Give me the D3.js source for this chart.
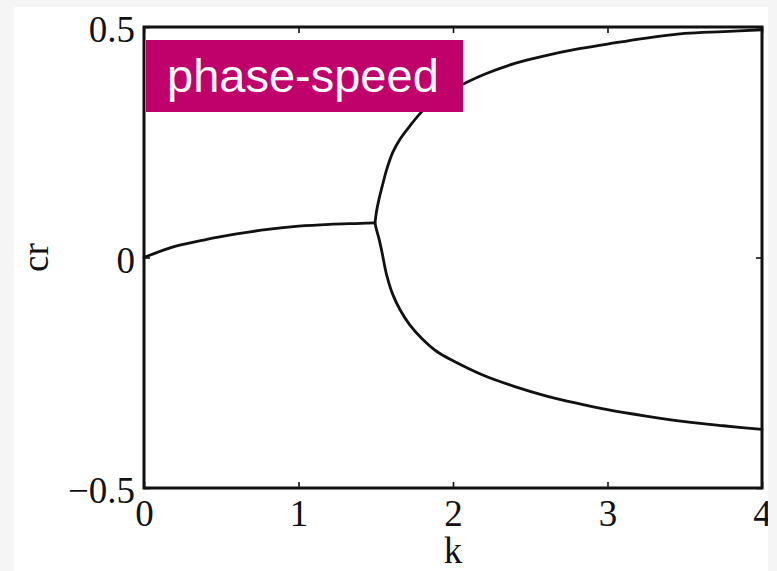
<!DOCTYPE html>
<html>
<head>
<meta charset="utf-8">
<script src="https://cdn.jsdelivr.net/npm/d3@7"></script>
<style>
  html, body { margin: 0; padding: 0; background: #f5f5f5; }
  svg { display: block; }
</style>
</head>
<body>
<svg id="chart" width="777" height="571"></svg>
<script>
// Wavenumber k vs. phase speed cr: a single neutral branch up to the
// bifurcation point, then two branches (upper and lower phase speeds).
const kSingle  = [0, 0.2, 0.4, 0.6, 0.8, 1.0, 1.2, 1.4, 1.495];
const crSingle = [0, 0.024, 0.039, 0.051, 0.061, 0.068, 0.072, 0.074, 0.075];

const kSplit  = [1.495, 1.505, 1.52, 1.54, 1.57, 1.61, 1.66, 1.72, 1.80, 1.90, 2.0, 2.2, 2.4, 2.6, 2.8, 3.0, 3.25, 3.5, 3.75, 4.0];
const crUpper = [0.075, 0.100, 0.125, 0.152, 0.190, 0.228, 0.258, 0.285, 0.317, 0.346, 0.365, 0.397, 0.421, 0.438, 0.452, 0.463, 0.476, 0.486, 0.490, 0.494];
const crLower = [0.075, 0.060, 0.042, 0.012, -0.037, -0.080, -0.115, -0.146, -0.176, -0.205, -0.224, -0.256, -0.280, -0.300, -0.316, -0.330, -0.344, -0.356, -0.365, -0.373];

const xTicks = [0, 1, 2, 3, 4];
const yTicks = [-0.5, 0, 0.5];
const xLabel = "k";
const yLabel = "cr";
const badgeText = "phase-speed";

const svg = d3.select("#chart");
const W = 777, H = 571;
const panel = { left: 14, top: 7, right: 768, bottom: 571 };
const plot = { left: 144, top: 27, right: 762, bottom: 488 };

const serif = "'Liberation Serif', 'Times New Roman', serif";
const sans = "'Liberation Sans', Arial, sans-serif";
const fontSize = 37;

// page panel
svg.append("rect").attr("x", 0).attr("y", 0).attr("width", W).attr("height", H).attr("fill", "#f5f5f5");
svg.append("clipPath").attr("id", "panelClip")
  .append("rect")
  .attr("x", panel.left).attr("y", panel.top)
  .attr("width", panel.right - panel.left).attr("height", panel.bottom - panel.top);
const g = svg.append("g").attr("clip-path", "url(#panelClip)");
g.append("rect")
  .attr("x", panel.left).attr("y", panel.top)
  .attr("width", panel.right - panel.left).attr("height", panel.bottom - panel.top)
  .attr("fill", "#ffffff");

const x = d3.scaleLinear().domain([0, 4]).range([plot.left, plot.right]);
const y = d3.scaleLinear().domain([-0.5, 0.5]).range([plot.bottom, plot.top]);

const tickLen = 6;
const fmt = d => (d < 0 ? "\u2212" + Math.abs(d) : String(d));

// inward ticks on all four sides
const axB = d3.axisBottom(x).tickValues(xTicks).tickSizeInner(-tickLen).tickSizeOuter(0).tickFormat(fmt).tickPadding(11);
const axT = d3.axisTop(x).tickValues(xTicks).tickSizeInner(-tickLen).tickSizeOuter(0).tickFormat("");
const axL = d3.axisLeft(y).tickValues(yTicks).tickSizeInner(-tickLen).tickSizeOuter(0).tickFormat(fmt).tickPadding(9);
const axR = d3.axisRight(y).tickValues(yTicks).tickSizeInner(-tickLen).tickSizeOuter(0).tickFormat("");

function styleAxis(sel) {
  sel.select(".domain").remove();
  sel.selectAll(".tick line").attr("stroke", "#111").attr("stroke-width", 1.6);
  sel.selectAll(".tick text").attr("fill", "#111").attr("font-family", serif).attr("font-size", fontSize);
}

g.append("g").attr("transform", `translate(0,${plot.bottom})`).call(axB).call(styleAxis)
  .selectAll(".tick text").attr("dy", "0.72em");
g.append("g").attr("transform", `translate(0,${plot.top})`).call(axT).call(styleAxis);
g.append("g").attr("transform", `translate(${plot.left},0)`).call(axL).call(styleAxis)
  .selectAll(".tick text").attr("dy", "0.40em");
g.append("g").attr("transform", `translate(${plot.right},0)`).call(axR).call(styleAxis);

// curves
const lineSingle = d3.line().x(d => x(d[0])).y(d => y(d[1])).curve(d3.curveMonotoneX);
const lineBranch = d3.line().x(d => x(d[0])).y(d => y(d[1])).curve(d3.curveCatmullRom.alpha(0.5));
const curves = [
  { pts: d3.zip(kSingle, crSingle), gen: lineSingle },
  { pts: d3.zip(kSplit, crUpper), gen: lineBranch },
  { pts: d3.zip(kSplit, crLower), gen: lineBranch }
];
g.append("g").selectAll("path").data(curves).join("path")
  .attr("d", d => d.gen(d.pts))
  .attr("fill", "none")
  .attr("stroke", "#111")
  .attr("stroke-width", 2.8)
  .attr("stroke-linejoin", "round")
  .attr("stroke-linecap", "round");

// frame
g.append("rect")
  .attr("x", plot.left).attr("y", plot.top)
  .attr("width", plot.right - plot.left).attr("height", plot.bottom - plot.top)
  .attr("fill", "none").attr("stroke", "#111").attr("stroke-width", 3);

// axis titles
g.append("text")
  .attr("x", x(2)).attr("y", 563)
  .attr("text-anchor", "middle")
  .attr("font-family", serif).attr("font-size", fontSize).attr("fill", "#111")
  .text(xLabel);
g.append("text")
  .attr("transform", `translate(48,${y(0)}) rotate(-90)`)
  .attr("text-anchor", "middle")
  .attr("font-family", serif).attr("font-size", fontSize).attr("fill", "#111")
  .text(yLabel);

// badge
const badge = g.append("g");
badge.append("rect")
  .attr("x", 146).attr("y", 40).attr("width", 317).attr("height", 72)
  .attr("fill", "#c0006b");
badge.append("text")
  .attr("x", 167).attr("y", 92)
  .attr("font-family", sans).attr("font-size", 47).attr("fill", "#f8f8f8")
  .text(badgeText);
</script>
</body>
</html>
